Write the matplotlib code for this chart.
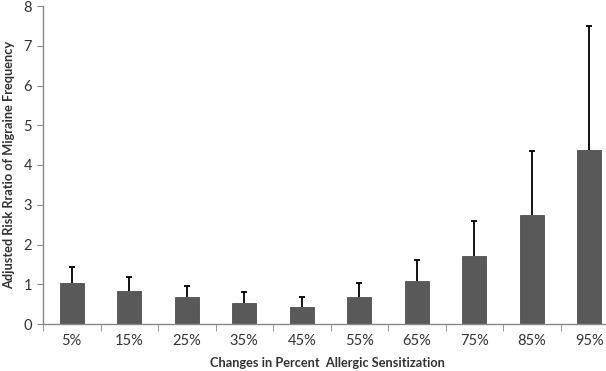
import matplotlib
matplotlib.use("Agg")
import matplotlib.pyplot as plt
import numpy as np

categories = ["5%", "15%", "25%", "35%", "45%", "55%", "65%", "75%", "85%", "95%"]
risk_ratio = [1.02, 0.83, 0.67, 0.53, 0.43, 0.68, 1.07, 1.71, 2.73, 4.38]
upper_ci = [1.43, 1.17, 0.96, 0.80, 0.69, 1.02, 1.61, 2.59, 4.35, 7.50]
y_ticks = [0, 1, 2, 3, 4, 5, 6, 7, 8]

plt.rcParams['font.family'] = ['Lato', 'DejaVu Sans']

fig = plt.figure(figsize=(6.06, 3.71), dpi=100)
ax = fig.add_axes([43/606, 47/371, 575/606, 318/371])

x = np.arange(len(categories))
err_up = np.array(upper_ci) - np.array(risk_ratio)
ax.bar(x, risk_ratio, width=0.42, color='#595959', edgecolor='#505050', linewidth=0.6, zorder=2)
eb = ax.errorbar(x, risk_ratio, yerr=[np.zeros_like(err_up), err_up], fmt='none',
                 ecolor='black', elinewidth=1.3, capsize=2.3, capthick=1.3, zorder=1)
eb[1][0].set_visible(False)

ax.set_xlim(-0.5, len(categories) - 0.5)
ax.set_ylim(0, 8)
ax.set_yticks(y_ticks)
ax.set_yticklabels([str(t) for t in y_ticks], fontsize=10.5, color='#333333')
ax.set_xticks(x)
ax.set_xticklabels(categories, fontsize=10.5, color='#333333')
ax.tick_params(axis='x', which='major', length=0, pad=7)
ax.set_xticks(np.arange(-0.5, len(categories), 1.0), minor=True)
ax.tick_params(axis='x', which='minor', length=5, direction='out', color='#888888')
ax.tick_params(axis='y', length=4, direction='out', color='#888888', pad=4)

for s in ['top', 'right']:
    ax.spines[s].set_visible(False)
for s in ['left', 'bottom']:
    ax.spines[s].set_color('#888888')
    ax.spines[s].set_linewidth(1.0)

fig.text(327/606, 1 - 363/371, "Changes in Percent  Allergic Sensitization", fontsize=9.2,
         fontweight='bold', color='#333333', ha='center', va='center')
fig.text(9/606, 1 - 165/371, "Adjusted Risk Rratio of Migraine Frequency", fontsize=9.2,
         fontweight='bold', color='#333333', ha='center', va='center', rotation=90)

fig.savefig("out.png", dpi=100)
